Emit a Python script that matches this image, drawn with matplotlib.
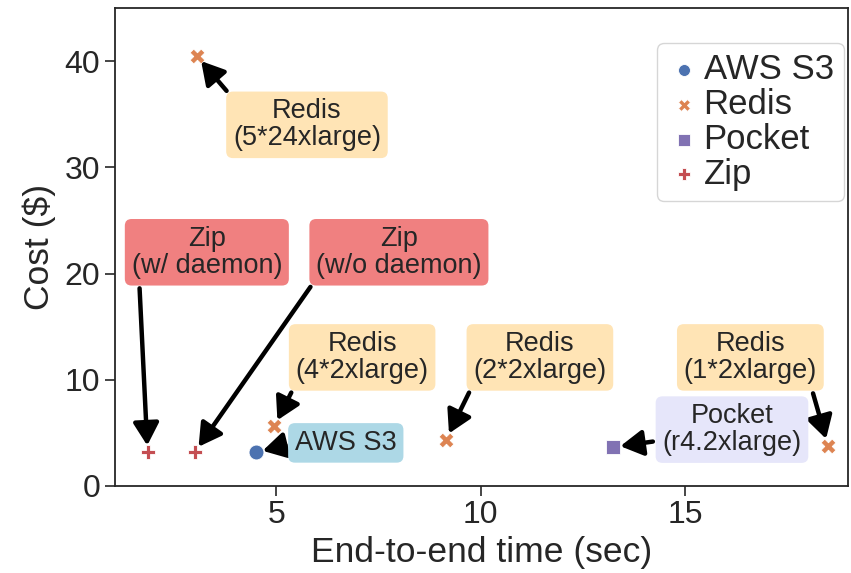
import matplotlib
matplotlib.use("Agg")
import matplotlib.pyplot as plt
import seaborn as sns

sns.set_style("ticks")
plt.rcParams['font.family'] = ['Liberation Sans', 'DejaVu Sans']

# data points (time in sec, cost in $)
systems = ['AWS S3', 'Redis', 'Pocket', 'Zip']
times = {
    'AWS S3': [4.5],
    'Redis': [3.05, 4.95, 9.15, 18.5],
    'Pocket': [13.25],
    'Zip': [1.85, 3.0],
}
costs = {
    'AWS S3': [3.15],
    'Redis': [40.5, 5.6, 4.35, 3.8],
    'Pocket': [3.65],
    'Zip': [3.15, 3.15],
}
markers = {'AWS S3': 'o', 'Redis': 'X', 'Pocket': 's', 'Zip': 'P'}
colors = {'AWS S3': '#4C72B0', 'Redis': '#DD8452', 'Pocket': '#8172B3', 'Zip': '#C44E52'}

# annotations: label, target point, text position, box colour, arrow tail relpos
notes = [
    ('Redis\n(5*24xlarge)', (3.05, 40.5), (5.75, 34.0), '#FFE4B5', (0.0, 1.0)),
    ('Zip\n(w/ daemon)', (1.85, 3.15), (3.3, 22.0), '#F08080', (0.05, 0.0)),
    ('Zip\n(w/o daemon)', (3.0, 3.15), (8.0, 22.0), '#F08080', (0.0, 0.0)),
    ('Redis\n(4*2xlarge)', (4.95, 5.6), (7.1, 12.1), '#FFE4B5', (0.0, 0.0)),
    ('Redis\n(2*2xlarge)', (9.15, 4.35), (11.45, 12.1), '#FFE4B5', (0.0, 0.0)),
    ('Redis\n(1*2xlarge)', (18.5, 3.8), (16.6, 12.1), '#FFE4B5', (0.95, 0.0)),
    ('AWS S3', (4.5, 3.15), (6.7, 4.05), '#ADD8E6', (0.0, 0.5)),
    ('Pocket\n(r4.2xlarge)', (13.25, 3.65), (16.15, 5.3), '#E6E6FA', (0.0, 0.3)),
]

fig = plt.figure(figsize=(8.51, 5.73), dpi=100)
ax = fig.add_axes([0.135, 0.152, 0.862, 0.834])

for s in systems:
    ax.scatter(times[s], costs[s], marker=markers[s], color=colors[s], s=115,
               edgecolor='white', linewidth=0.6, label=s, zorder=3)

for label, pt, txt, col, rp in notes:
    ax.annotate(label, xy=pt, xytext=txt, ha='center', va='center', fontsize=19.5,
                color='#262626', linespacing=1.05,
                bbox=dict(boxstyle='round,pad=0.25', fc=col, ec='none'),
                arrowprops=dict(arrowstyle='-|>,head_length=0.7,head_width=0.4',
                                color='black', lw=3.2, relpos=rp, shrinkA=2, shrinkB=5),
                zorder=4)

ax.set_xlim(1.05, 19.0)
ax.set_ylim(0, 45)
ax.set_xticks([5, 10, 15])
ax.set_yticks([0, 10, 20, 30, 40])
ax.tick_params(labelsize=23, length=7, width=1.2, colors='#262626')
ax.set_xlabel('End-to-end time (sec)', fontsize=25.5, color='#262626', labelpad=4)
ax.set_ylabel('Cost ($)', fontsize=25.5, color='#262626', labelpad=6)
for sp in ax.spines.values():
    sp.set_color('#262626')
    sp.set_linewidth(1.3)

ax.legend(loc='upper right', fontsize=25, markerscale=0.8, handletextpad=0.05,
          labelspacing=0.05, borderpad=0.3, handlelength=1.0, borderaxespad=0,
          bbox_to_anchor=(0.994, 0.927))

fig.savefig('out.png', dpi=100)
